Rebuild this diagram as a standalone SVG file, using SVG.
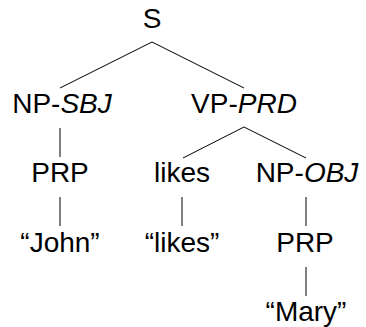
<svg xmlns="http://www.w3.org/2000/svg" width="366" height="327" viewBox="0 0 366 327">
<style>
text{font-family:"Liberation Sans",Arial,sans-serif;font-size:28px;fill:#000;text-anchor:middle}
.i{font-style:italic}
#edges line{stroke:#000;stroke-width:1}
</style>
<rect width="366" height="327" fill="#fff"/>
<g id="edges">
<line x1="152" y1="42" x2="60" y2="88"/>
<line x1="152" y1="42" x2="244" y2="88"/>
<line x1="60" y1="128" x2="60" y2="157"/>
<line x1="60" y1="197" x2="60" y2="226"/>
<line x1="244" y1="127" x2="183" y2="158"/>
<line x1="244" y1="127" x2="306" y2="158"/>
<line x1="182" y1="197" x2="182" y2="226"/>
<line x1="306" y1="197" x2="306" y2="226"/>
<line x1="306" y1="267" x2="306" y2="296"/>
</g>
<g id="n-S"><text x="152" y="28">S</text></g>
<g id="n-NPSBJ"><text x="62" y="113">NP-<tspan class="i">SBJ</tspan></text></g>
<g id="n-VPPRD"><text x="244" y="113">VP-<tspan class="i">PRD</tspan></text></g>
<g id="n-PRP1"><text x="60" y="182">PRP</text></g>
<g id="n-likes"><text x="182" y="182">likes</text></g>
<g id="n-NPOBJ"><text x="307" y="182">NP-<tspan class="i">OBJ</tspan></text></g>
<g id="n-John"><text x="60" y="252">“John”</text></g>
<g id="n-likesq"><text x="182" y="252">“likes”</text></g>
<g id="n-PRP2"><text x="305" y="252">PRP</text></g>
<g id="n-Mary"><text x="306" y="321">“Mary”</text></g>
</svg>
